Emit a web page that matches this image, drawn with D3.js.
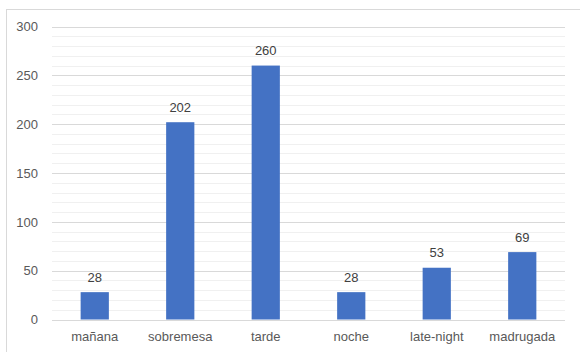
<!DOCTYPE html>
<html><head><meta charset="utf-8">
<script src="https://cdn.jsdelivr.net/npm/d3@7"></script>
<style>body{margin:0;background:#fff}svg{display:block}</style>
</head><body>
<script>
const categories = ["mañana","sobremesa","tarde","noche","late-night","madrugada"];
const values = [28,202,260,28,53,69];
const majorTicks = [0,50,100,150,200,250,300];
const minorTicks = d3.range(0,301,10);

const W=580,H=352;
const m={left:52,right:15,top:26,bottom:33};
const FONT="Liberation Sans, Arial, sans-serif";
const svg=d3.select("body").append("svg").attr("width",W).attr("height",H);
svg.append("rect").attr("x",6.5).attr("y",9.5).attr("width",W).attr("height",H).attr("fill","#fff").attr("stroke","#d9d9d9");

const x=d3.scaleBand().domain(categories).range([m.left,W-m.right]).paddingInner(0.67).paddingOuter(0.335);
const y=d3.scaleLinear().domain([0,300]).range([319.5,26.5]);

svg.append("g").selectAll("line").data(minorTicks.filter(t=>t%50)).join("line")
 .attr("x1",m.left).attr("x2",W-m.right).attr("y1",d=>Math.round(y(d))+0.5).attr("y2",d=>Math.round(y(d))+0.5)
 .attr("stroke","#f0f0f0");
svg.append("g").selectAll("line").data(majorTicks).join("line")
 .attr("x1",m.left).attr("x2",W-m.right).attr("y1",d=>Math.round(y(d))+0.5).attr("y2",d=>Math.round(y(d))+0.5)
 .attr("stroke","#d9d9d9");

const yAxis=svg.append("g").attr("transform",`translate(${m.left},0)`)
 .call(d3.axisLeft(y).tickValues(majorTicks).tickSize(0).tickPadding(14));
yAxis.select(".domain").remove();
yAxis.selectAll("text").attr("font-family",FONT).attr("font-size",13).attr("fill","#595959");

const xAxis=svg.append("g").attr("transform",`translate(0,${y(0)})`)
 .call(d3.axisBottom(x).tickSize(0).tickPadding(12));
xAxis.select(".domain").remove();
xAxis.selectAll("text").attr("font-family",FONT).attr("font-size",13).attr("fill","#595959");

const data=categories.map((c,i)=>({c,v:values[i]}));
svg.append("g").selectAll("rect").data(data).join("rect")
 .attr("x",d=>x(d.c)).attr("width",x.bandwidth())
 .attr("y",d=>y(d.v)).attr("height",d=>y(0)-y(d.v)).attr("fill","#4472C4");
svg.append("g").selectAll("text").data(data).join("text")
 .attr("x",d=>x(d.c)+x.bandwidth()/2).attr("y",d=>y(d.v)-10.5)
 .attr("text-anchor","middle").attr("font-family",FONT).attr("font-size",13)
 .attr("fill","#404040").text(d=>d.v);
</script>
</body></html>
